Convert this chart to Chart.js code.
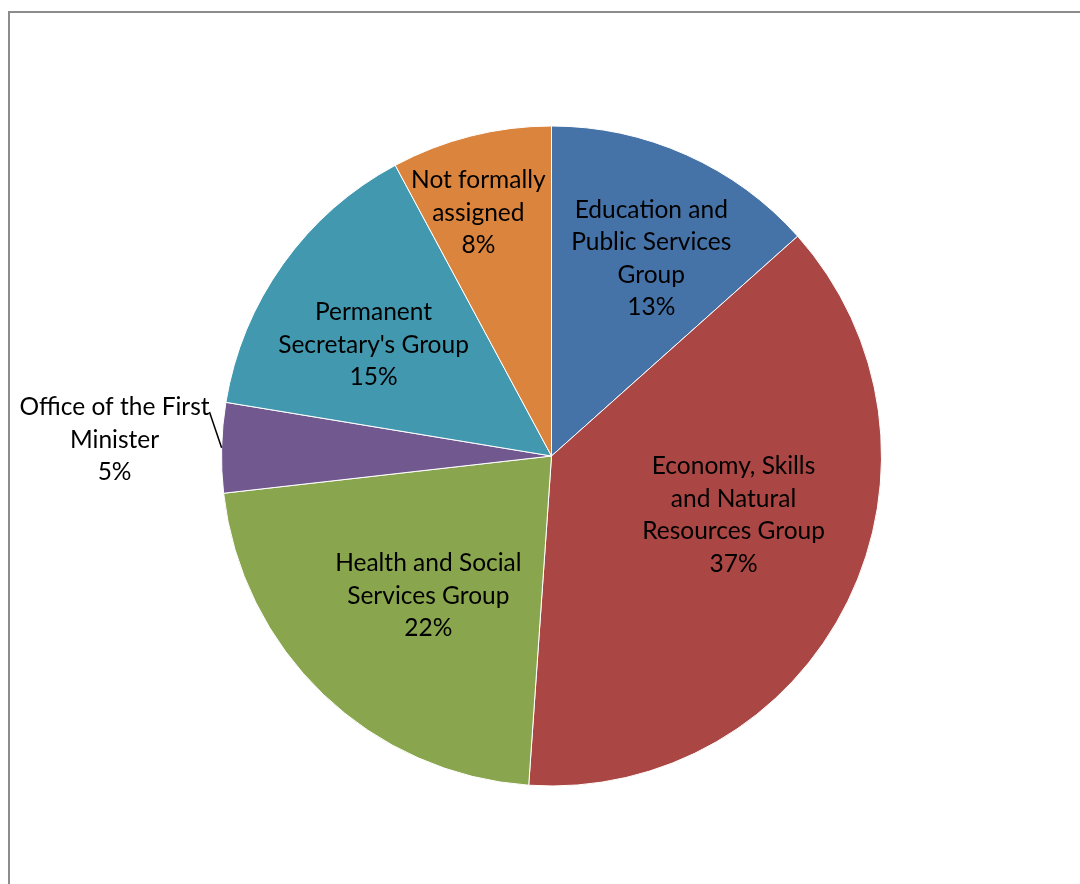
<!DOCTYPE html>
<html lang="en">
<head>
    <meta charset="UTF-8">
    <script src="https://cdn.jsdelivr.net/npm/chart.js"></script>
    <title>Staff by group</title>
    <style>
        html, body { margin: 0; padding: 0; background: #fff; }
        .grafico { position: relative; width: 1080px; height: 884px; }
    </style>
</head>
<body>
    <div class="grafico">
        <canvas id="myChart"></canvas>
    </div>
<script>
    // dados do gráfico
    const categorias = ['Education and Public Services Group', 'Economy, Skills and Natural Resources Group',
        'Health and Social Services Group', 'Office of the First Minister',
        "Permanent Secretary's Group", 'Not formally assigned'];
    const linhasRotulo = [
        ['Education and', 'Public Services', 'Group'],
        ['Economy, Skills', 'and Natural', 'Resources Group'],
        ['Health and Social', 'Services Group'],
        ['Office of the First', 'Minister'],
        ['Permanent', "Secretary's Group"],
        ['Not formally', 'assigned']
    ];
    const valores = [13.4, 37.7, 22.1, 4.4, 14.55, 7.85];
    const percentuais = ['13%', '37%', '22%', '5%', '15%', '8%'];
    const cores = ['#4572a7', '#aa4643', '#89a54e', '#71588f', '#4198af', '#db843d'];

    // posição dos rótulos: fração do raio e desvio do ângulo (graus)
    const rotuloRaio = [0.67, 0.58, 0.565, 1.325, 0.636, 0.77];
    const rotuloDesvio = [2.7, -8.1, -2.4, 0.7, -3.55, -2.6];

    const fonte = '24.5px Lato';
    const alturaLinha = 32.5;

    const moldura = {
        id: 'moldura',
        beforeDraw(chart) {
            const c = chart.ctx;
            c.save();
            c.strokeStyle = '#8c8c8c';
            c.lineWidth = 2;
            c.beginPath();
            c.moveTo(9, 890);
            c.lineTo(9, 12);
            c.lineTo(1090, 12);
            c.stroke();
            c.restore();
        }
    };

    const rotulos = {
        id: 'rotulos',
        afterDatasetsDraw(chart) {
            const c = chart.ctx;
            const arcos = chart.getDatasetMeta(0).data;
            c.save();
            c.font = fonte;
            c.fillStyle = '#000';
            c.textAlign = 'center';
            c.textBaseline = 'middle';
            arcos.forEach((arco, i) => {
                const centro = (arco.startAngle + arco.endAngle) / 2;
                const meio = centro + rotuloDesvio[i] * Math.PI / 180;
                const r = arco.outerRadius * rotuloRaio[i];
                const x = arco.x + Math.cos(meio) * r;
                const y = arco.y + Math.sin(meio) * r;
                const linhas = linhasRotulo[i].concat([percentuais[i]]);
                const topo = y - (linhas.length - 1) * alturaLinha / 2;
                linhas.forEach((t, j) => c.fillText(t, x, topo + j * alturaLinha));

                // linha de chamada para rótulo fora da pizza
                if (rotuloRaio[i] > 1) {
                    const a1 = meio + 5.2 * Math.PI / 180;
                    c.strokeStyle = '#000';
                    c.lineWidth = 1.5;
                    c.beginPath();
                    c.moveTo(arco.x + Math.cos(a1) * arco.outerRadius * 1.045, arco.y + Math.sin(a1) * arco.outerRadius * 1.045);
                    c.lineTo(arco.x + Math.cos(centro) * arco.outerRadius, arco.y + Math.sin(centro) * arco.outerRadius);
                    c.stroke();
                }
            });
            c.restore();
        }
    };

    const ctx = document.getElementById('myChart');

    const myChart = new Chart(ctx, {
        type: 'pie',
        data: {
            labels: categorias,
            datasets: [{
                data: valores,
                backgroundColor: cores,
                borderColor: '#ffffff',
                borderWidth: 1
            }]
        },
        options: {
            responsive: true,
            maintainAspectRatio: false,
            animation: false,
            layout: { padding: { left: 221, right: 198, top: 125, bottom: 97 } },
            plugins: {
                legend: { display: false },
                tooltip: { enabled: false }
            }
        },
        plugins: [moldura, rotulos]
    });
</script>
</body>
</html>
